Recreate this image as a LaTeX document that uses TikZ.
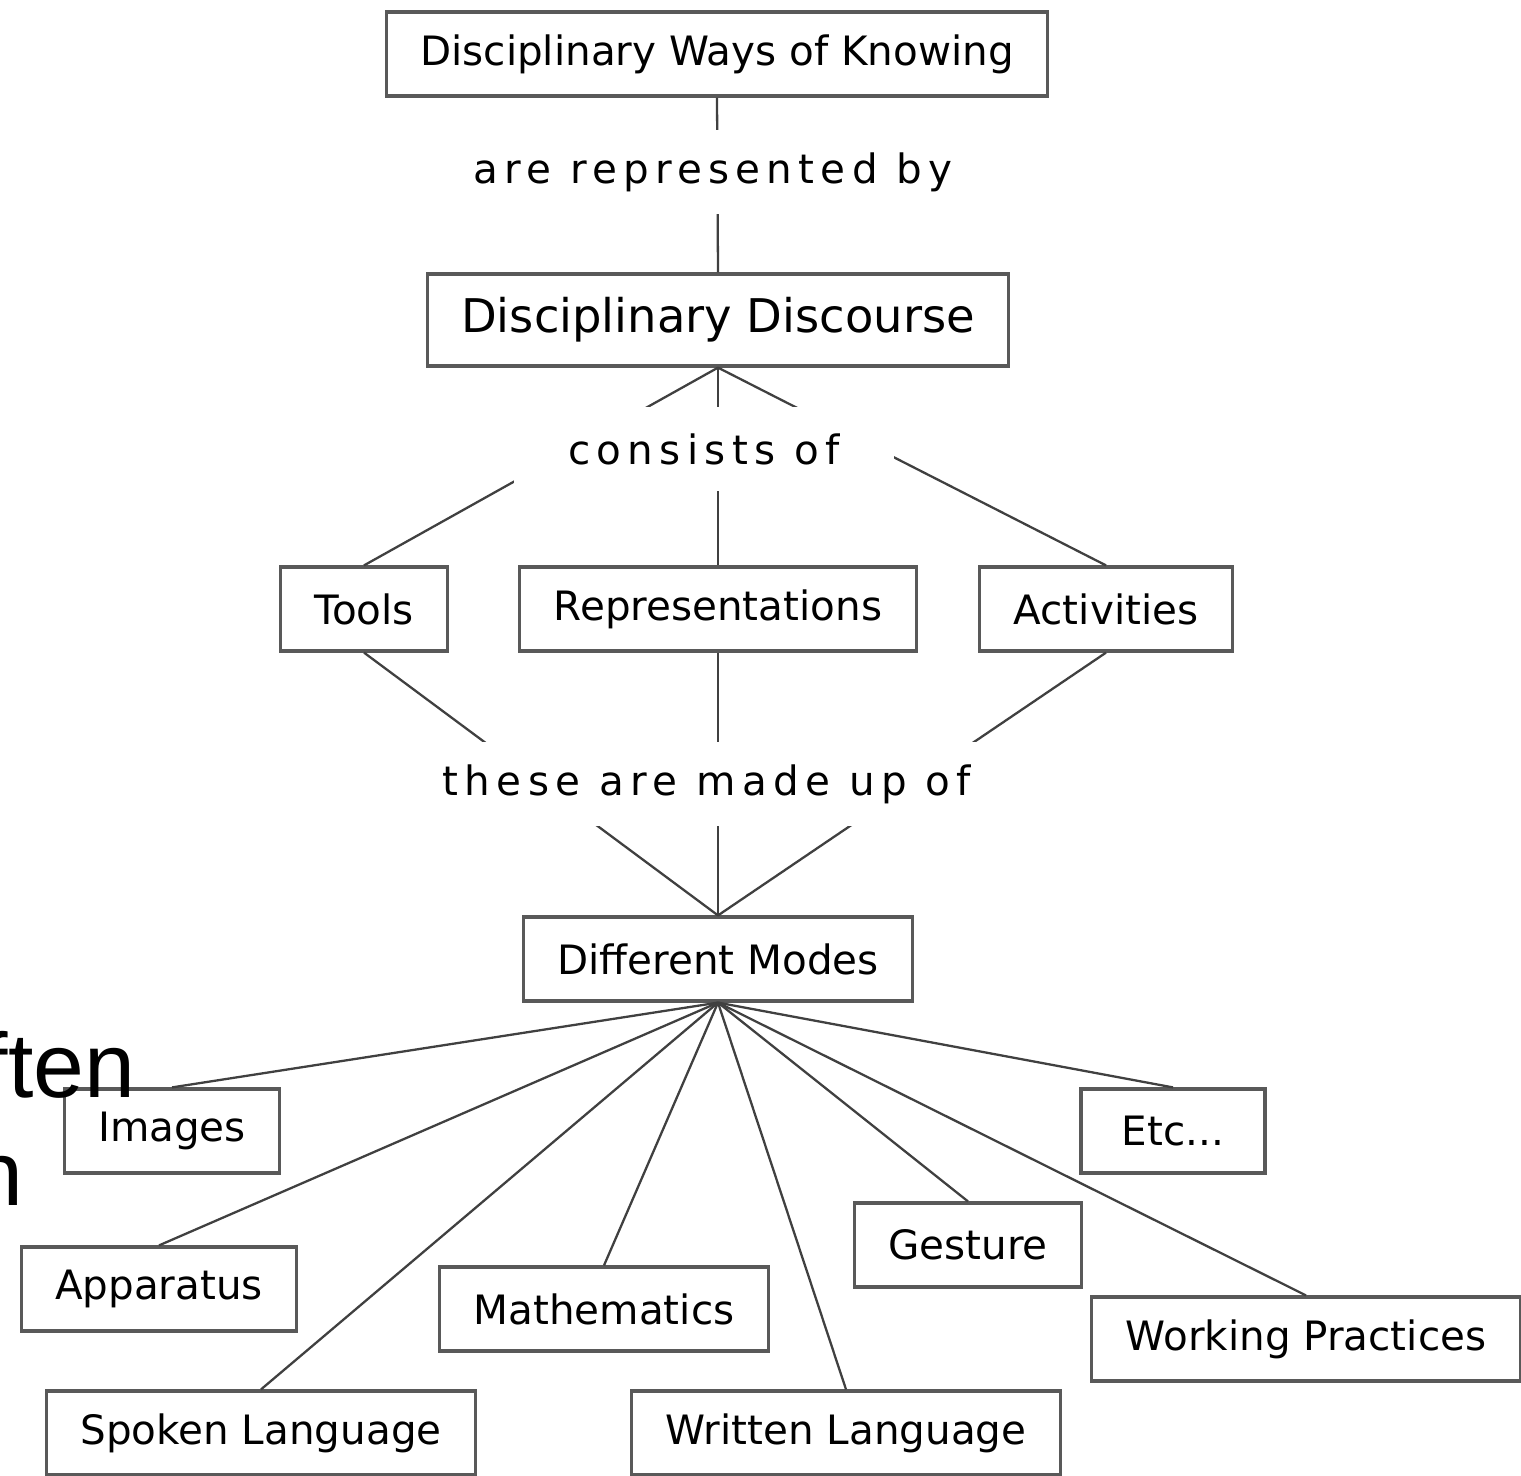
\documentclass[tikz,border=0pt]{standalone}
\usepackage{fontspec}
\setmainfont{DejaVu Sans}
\newfontfamily\spacedfont[LetterSpace=15.5]{DejaVu Sans}
\newfontfamily\slidefont{Liberation Sans}

\begin{document}
\begin{tikzpicture}[x=0.01cm, y=-0.01cm,
		every node/.style={font=\fontsize{11.5}{13}\selectfont},
		concept/.style={draw=black!65, line width=0.9pt, fill=white, inner xsep=0.34cm, minimum height=0.84cm},
		linkword/.style={fill=white, inner xsep=0.1cm, minimum height=0.84cm, font=\spacedfont\fontsize{11.5}{13}\selectfont},
		link/.style={draw=black!75, line width=0.65pt}]
	\useasboundingbox (0,0) rectangle (1521,1475);
	\clip (0,0) rectangle (1521,1475);
	
	% concepts
	\node[concept] (ways) at (717,54) {Disciplinary Ways of Knowing};
	\node[concept, minimum height=0.92cm, font=\fontsize{13.2}{15}\selectfont] (discourse) at (718,320) {Disciplinary Discourse};
	\node[concept] (tools) at (364,609) {Tools};
	\node[concept] (repr) at (718,609) {Representations};
	\node[concept] (activities) at (1106,609) {Activities};
	\node[concept] (modes) at (718,959) {Different Modes};
	
	% modes
	\node[concept] (images) at (172,1131) {Images};
	\node[concept, minimum width=1.84cm] (etc) at (1173,1131) {Etc...};
	\node[concept] (gesture) at (968,1245) {Gesture};
	\node[concept] (apparatus) at (159,1289) {Apparatus};
	\node[concept] (maths) at (604,1309) {Mathematics};
	\node[concept] (working) at (1306,1339) {Working Practices};
	\node[concept] (spoken) at (261,1433) {Spoken Language};
	\node[concept] (written) at (846,1433) {Written Language};
	
	% links
	\draw[link] (ways.south) -- (discourse.north);
	\foreach \n in {tools, repr, activities} {
		\draw[link] (\n.north) -- (discourse.south);
		\draw[link] (\n.south) -- (modes.north);
	}
	\foreach \n in {images, etc, gesture, apparatus, maths, working, spoken, written}
		\draw[link] (modes.south) -- (\n.north);
	
	% linking words, white so they break the lines
	\node[linkword] (represented) at (713,172) {are represented by};
	\node[linkword, minimum width=3.8cm] (consists) at (704,449) {consists of};
	\node[linkword] (madeup) at (707,784) {these are made up of};
	
	% slide text behind the figure
	\node[anchor=base east, inner sep=0, font=\slidefont\fontsize{26}{30}\selectfont] (often) at (136,1097) {ften};
	\node[anchor=base east, inner sep=0, font=\slidefont\fontsize{26}{30}\selectfont] (nextline) at (24,1205) {n};
\end{tikzpicture}
\end{document}
